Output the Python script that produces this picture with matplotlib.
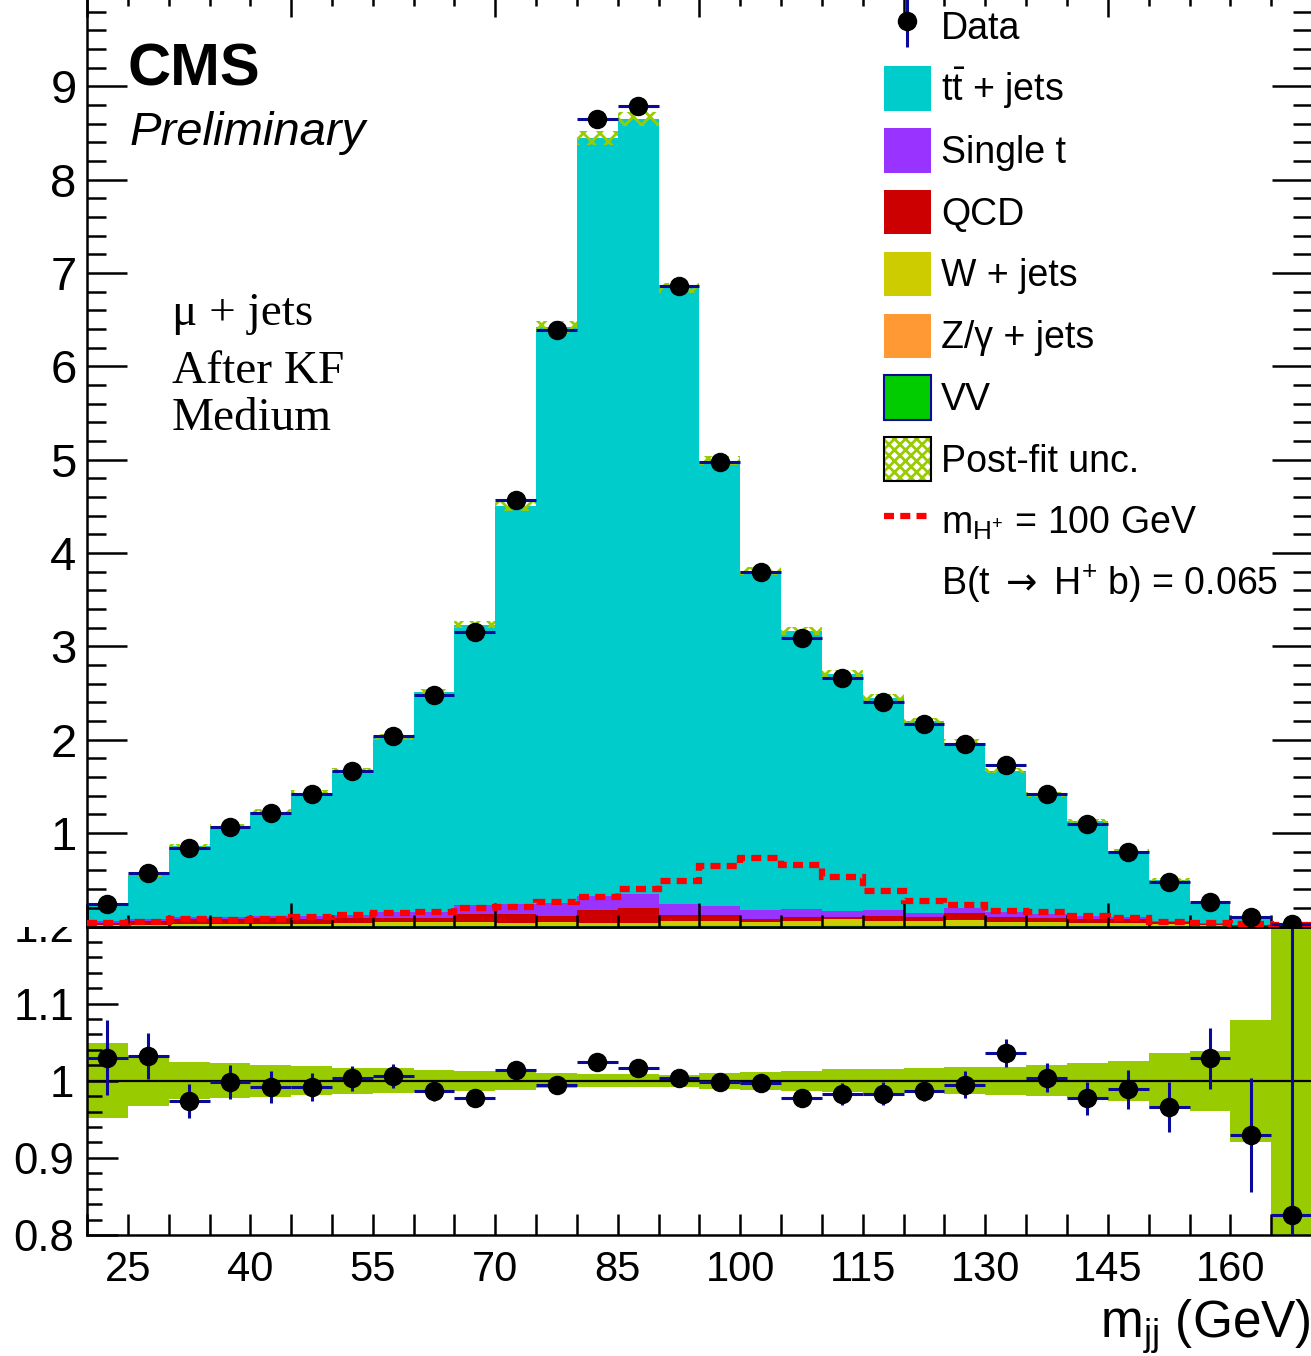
import numpy as np
import matplotlib
matplotlib.use("Agg")
import matplotlib.pyplot as plt
from matplotlib.patches import Patch, Rectangle
from matplotlib.lines import Line2D
from matplotlib.legend_handler import HandlerTuple
from matplotlib.ticker import MultipleLocator, FixedLocator, FuncFormatter

plt.rcParams["font.family"] = ["Liberation Sans", "DejaVu Sans"]
plt.rcParams["mathtext.fontset"] = "custom"
plt.rcParams["mathtext.rm"] = "Liberation Sans"
plt.rcParams["mathtext.it"] = "Liberation Sans:italic"
plt.rcParams["mathtext.bf"] = "Liberation Sans:bold"
plt.rcParams["mathtext.sf"] = "DejaVu Sans"
plt.rcParams["hatch.linewidth"] = 2.0

# Binning: 30 bins of 5 GeV from 20 to 170
edges = np.arange(20, 175, 5)
centers = edges[:-1] + 2.5

# Observed events (upper panel)
data = [0.24, 0.57, 0.84, 1.07, 1.22, 1.42, 1.67, 2.04, 2.48, 3.16,
        4.57, 6.39, 8.65, 8.79, 6.86, 4.98, 3.80, 3.09, 2.66, 2.41,
        2.17, 1.96, 1.73, 1.42, 1.10, 0.80, 0.48, 0.26, 0.10, 0.025]

# Data / MC ratio and its errors (lower panel)
ratio = [1.030, 1.032, 0.974, 0.998, 0.992, 0.992, 1.003, 1.006, 0.987, 0.977,
         1.014, 0.995, 1.024, 1.016, 1.003, 0.998, 0.997, 0.977, 0.983, 0.983,
         0.987, 0.995, 1.036, 1.004, 0.977, 0.989, 0.966, 1.029, 0.930, 0.826]
ratio_err = [0.049, 0.030, 0.022, 0.022, 0.021, 0.018, 0.016, 0.016, 0.013, 0.011,
             0.010, 0.009, 0.008, 0.008, 0.008, 0.007, 0.008, 0.010, 0.014, 0.015,
             0.013, 0.017, 0.018, 0.019, 0.022, 0.025, 0.032, 0.040, 0.074, 0.40]

# Relative post-fit uncertainty (half width)
unc_rel = [0.0485, 0.0326, 0.024, 0.0224, 0.0206, 0.019, 0.0167, 0.016, 0.0141, 0.013,
           0.012, 0.0098, 0.0087, 0.0087, 0.008, 0.0102, 0.0115, 0.013, 0.0148, 0.0154,
           0.016, 0.0176, 0.018, 0.0198, 0.023, 0.026, 0.0365, 0.039, 0.079, 0.30]

# Small backgrounds
single_t = [0.015, 0.018, 0.018, 0.018, 0.021, 0.036, 0.036, 0.064, 0.064, 0.100,
            0.107, 0.146, 0.150, 0.150, 0.128, 0.096, 0.089, 0.086, 0.070, 0.068,
            0.043, 0.054, 0.054, 0.046, 0.032, 0.021, 0.018, 0.014, 0.006, 0.003]
qcd = [0.028, 0.036, 0.054, 0.054, 0.064, 0.050, 0.050, 0.046, 0.046, 0.086,
       0.093, 0.064, 0.136, 0.157, 0.061, 0.071, 0.039, 0.043, 0.020, 0.050,
       0.036, 0.071, 0.054, 0.043, 0.046, 0.043, 0.018, 0.014, 0.005, 0.002]
w_jets = [0.008, 0.016, 0.022, 0.022, 0.022, 0.022, 0.028, 0.036, 0.036, 0.036,
          0.027, 0.034, 0.028, 0.028, 0.046, 0.046, 0.036, 0.044, 0.066, 0.052,
          0.052, 0.060, 0.036, 0.036, 0.028, 0.028, 0.021, 0.010, 0.004, 0.002]
z_jets = [0.003, 0.004, 0.005, 0.005, 0.005, 0.005, 0.006, 0.007, 0.007, 0.007,
          0.007, 0.007, 0.007, 0.007, 0.008, 0.008, 0.007, 0.007, 0.009, 0.009,
          0.009, 0.008, 0.007, 0.007, 0.006, 0.006, 0.005, 0.003, 0.002, 0.001]
vv = [0.001, 0.001, 0.002, 0.002, 0.002, 0.002, 0.002, 0.002, 0.002, 0.003,
      0.003, 0.003, 0.003, 0.003, 0.003, 0.003, 0.003, 0.003, 0.003, 0.003,
      0.002, 0.002, 0.002, 0.002, 0.002, 0.002, 0.001, 0.001, 0.001, 0.001]

# Charged Higgs signal, m = 100 GeV
signal = [0.033, 0.044, 0.079, 0.072, 0.079, 0.097, 0.122, 0.143, 0.150, 0.197,
          0.211, 0.261, 0.315, 0.397, 0.486, 0.647, 0.732, 0.660, 0.526, 0.379,
          0.275, 0.232, 0.165, 0.151, 0.108, 0.090, 0.050, 0.036, 0.026, 0.020]

data = np.array(data)
ratio = np.array(ratio)
ratio_err = np.array(ratio_err)
unc_rel = np.array(unc_rel)
mc_total = data / ratio
others = np.array(single_t) + np.array(qcd) + np.array(w_jets) + np.array(z_jets) + np.array(vv)
tt_jets = mc_total - others
data_err = data * ratio_err / ratio

c_tt = "#00cccc"
c_st = "#9933ff"
c_qcd = "#cc0000"
c_w = "#cccc00"
c_z = "#ff9933"
c_vv = "#00cc00"
c_unc = "#99cc00"
c_err = "#0a0a9a"

W, H = 1311, 1356
fig = plt.figure(figsize=(W / 100, H / 100), dpi=100)


def px_box(left, top, right, bottom):
    return [left / W, 1 - bottom / H, (right - left) / W, (bottom - top) / H]


rax = fig.add_axes(px_box(87, 926.5, 1312, 1235), zorder=0)
ax = fig.add_axes(px_box(87, -7, 1312, 926.5), zorder=2)

# white cover hides the upper half of the "1.2" label like the original
fig.patches.append(Rectangle((0, 1 - 926.5 / H), 86 / W, 926.5 / H,
                             transform=fig.transFigure, facecolor="white",
                             edgecolor="none", zorder=1))

# Stacked backgrounds
layers = [(vv, c_vv), (z_jets, c_z), (w_jets, c_w), (qcd, c_qcd),
          (single_t, c_st), (tt_jets, c_tt)]
bottom = np.zeros(len(data))
for vals, color in layers:
    top = bottom + np.array(vals)
    ax.stairs(top, edges, baseline=bottom, fill=True, color=color, lw=0, zorder=1)
    bottom = top

# Post-fit uncertainty, hatched
ax.stairs(mc_total * (1 + unc_rel), edges, baseline=mc_total * (1 - unc_rel),
          fill=True, facecolor="none", edgecolor=c_unc, hatch="xx", lw=0, zorder=2)

# Signal
ax.stairs(signal, edges, baseline=None, color="#ff0000", lw=4.5,
          ls=(0, (1.6, 1.0)), zorder=3)

# Data
ax.errorbar(centers, data, xerr=2.5, yerr=data_err, fmt="o", color="black",
            ms=13, ecolor=c_err, elinewidth=2.2, capsize=0, zorder=5)

ax.set_xlim(20, 170)
ax.set_ylim(0, 10)
ax.xaxis.set_major_locator(FixedLocator([20, 45, 70, 95, 120, 145, 170]))
ax.xaxis.set_minor_locator(MultipleLocator(5))
ax.yaxis.set_major_locator(MultipleLocator(1))
ax.yaxis.set_minor_locator(MultipleLocator(0.2))
ax.yaxis.set_major_formatter(FuncFormatter(lambda v, p: "" if v < 0.5 or v > 9.5 else "%g" % v))
ax.tick_params(axis="x", which="major", direction="in", top=True, bottom=True,
               length=17, width=1.8, labelbottom=False)
ax.tick_params(axis="x", which="minor", direction="in", top=True, bottom=True,
               length=9, width=1.8)
ax.tick_params(axis="y", which="major", direction="in", left=True, right=True,
               length=29, width=1.8, labelsize=34, pad=7.5)
ax.tick_params(axis="y", which="minor", direction="in", left=True, right=True,
               length=14, width=1.8)
for sp in ax.spines.values():
    sp.set_linewidth(1.8)

# Ratio panel
rax.stairs(1 + unc_rel, edges, baseline=1 - unc_rel, fill=True, color=c_unc, lw=0)
rax.axhline(1, color="black", lw=1.6)
rax.errorbar(centers, ratio, xerr=2.5, yerr=ratio_err, fmt="o", color="black",
             ms=13, ecolor=c_err, elinewidth=2.2, capsize=0, zorder=5)
rax.set_xlim(20, 170)
rax.set_ylim(0.8, 1.2)
rax.xaxis.set_major_locator(FixedLocator([25, 40, 55, 70, 85, 100, 115, 130, 145, 160]))
rax.xaxis.set_minor_locator(MultipleLocator(5))
rax.yaxis.set_major_locator(FixedLocator([0.8, 0.9, 1.0, 1.1, 1.2]))
rax.yaxis.set_minor_locator(MultipleLocator(0.02))
rax.yaxis.set_major_formatter(FuncFormatter(lambda v, p: "%g" % round(v, 2)))
rax.tick_params(axis="x", which="both", direction="in", top=False, bottom=True,
                length=15, width=1.8, labelsize=30, pad=10.5)
rax.tick_params(axis="y", which="major", direction="in", left=True, right=False,
                length=22, width=1.8, labelsize=31.5, pad=9)
rax.tick_params(axis="y", which="minor", direction="in", left=True, right=False,
                length=11, width=1.8)
for sp in rax.spines.values():
    sp.set_linewidth(1.8)

fig.text(1311 / W, 1 - 1338 / H, r"$\mathrm{m_{jj}}$ (GeV)", ha="right",
         va="baseline", fontsize=37)

# Labels
fig.text(128 / W, 1 - 85 / H, "CMS", fontsize=43, fontweight="bold", va="baseline")
fig.text(130 / W, 1 - 145 / H, "Preliminary", fontsize=34, style="italic", va="baseline")
serif = ["Liberation Serif", "DejaVu Serif"]
fig.text(172 / W, 1 - 325 / H, "μ + jets", fontsize=34, family=serif, va="baseline")
fig.text(172 / W, 1 - 383 / H, "After KF", fontsize=34, family=serif, va="baseline")
fig.text(172 / W, 1 - 430 / H, "Medium", fontsize=34, family=serif, va="baseline")

# Legend
h_data = (Line2D([], [], marker="|", color=c_err, ms=38, mew=2.2, ls="none"),
          Line2D([], [], marker="o", color="black", ms=13, ls="none"))
h_unc = (Patch(facecolor="white", edgecolor=c_unc, hatch="xxx", lw=0),
         Patch(facecolor="none", edgecolor="black", lw=1.5))
handles = [h_data,
           Patch(facecolor=c_tt, edgecolor="none"),
           Patch(facecolor=c_st, edgecolor="none"),
           Patch(facecolor=c_qcd, edgecolor="none"),
           Patch(facecolor=c_w, edgecolor="none"),
           Patch(facecolor=c_z, edgecolor="none"),
           Patch(facecolor=c_vv, edgecolor=c_err, lw=1.5),
           h_unc,
           Line2D([], [], color="#ff0000", lw=4.5, ls=(0, (1.6, 1.0))),
           Line2D([], [], color="none")]
labels = ["Data", r"$\mathrm{t\bar{t}}$ + jets", "Single t", "QCD", "W + jets",
          "Z/γ + jets", "VV", "Post-fit unc.", r"$\mathrm{m_{H^{+}}}$ = 100 GeV",
          r"B(t $\mathsf{\rightarrow}$ H$^{+}$ b) = 0.065"]
fig.legend(handles, labels, loc="upper left", bbox_to_anchor=(884 / W, 1 - 4 / H),
           bbox_transform=fig.transFigure, frameon=False, fontsize=27,
           handlelength=1.25, handleheight=1.44, handletextpad=0.27,
           labelspacing=0.465, borderpad=0, borderaxespad=0,
           handler_map={tuple: HandlerTuple(ndivide=1, pad=0)})

fig.savefig("out.png", dpi=100)
